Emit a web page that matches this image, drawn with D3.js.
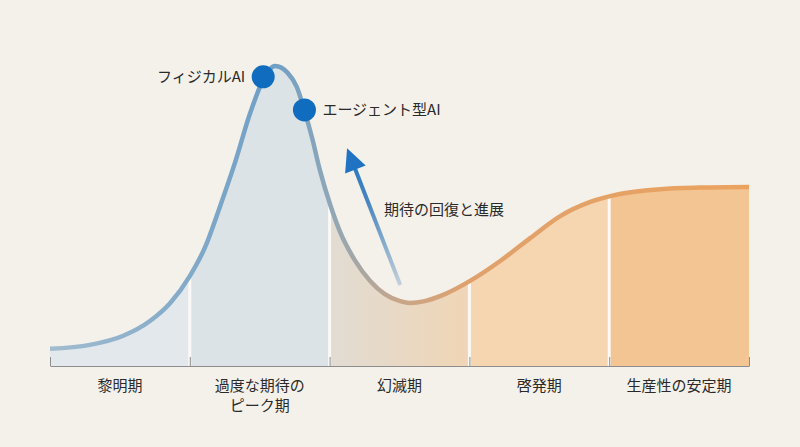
<!DOCTYPE html>
<html>
<head>
<meta charset="utf-8">
<script src="https://cdn.jsdelivr.net/npm/d3@7"></script>
<style>
  html, body { margin: 0; padding: 0; background: #f4f1ea; }
  svg { display: block; font-family: "Noto Sans CJK JP", "Noto Sans", sans-serif; }
</style>
</head>
<body>
<div id="chart"></div>
<script>
// hype cycle, x = time (0-100), y = expectation (0-100)
const curveX = [0, 5.7, 10.4, 14.3, 17.2, 20.0, 22.2, 24.3, 26.5, 28.6, 30.5, 32.2, 34.0, 35.3, 36.3, 37.5, 38.6, 40.1, 41.5, 43.6, 45.8, 47.9, 50.1, 51.5, 53.6, 56.5, 60.1, 64.4, 68.7, 73.0, 77.3, 81.5, 87.3, 93.0, 100];
const curveY = [5.6, 6.9, 9.8, 14.7, 20.6, 29.4, 38.9, 52.0, 66.7, 82.4, 93.5, 98.0, 95.8, 91.2, 84.3, 74.5, 64.1, 52.6, 43.8, 34.6, 27.8, 23.5, 21.2, 20.6, 21.2, 23.5, 27.8, 34.3, 41.8, 49.0, 53.6, 56.2, 57.8, 58.3, 58.5];

const phaseBounds = [0, 20, 40, 60, 80, 100];
const phaseLabels = [['黎明期'], ['過度な期待の', 'ピーク期'], ['幻滅期'], ['啓発期'], ['生産性の安定期']];

const techNames = ['フィジカルAI', 'エージェント型AI'];
const techX = [30.5, 36.4];
const techY = [94.5, 83.7];

const arrowFrom = [50.1, 26.5];
const arrowTo = [42.5, 71.2];
const arrowLabel = '期待の回復と進展';
const arrowLabelPos = [47.8, 51];

const width = 800;
const height = 447;

const svg = d3.select('#chart').append('svg')
    .attr('width', width)
    .attr('height', height);

svg.append('rect')
    .attr('width', width)
    .attr('height', height)
    .attr('fill', '#f4f1ea');

const x = d3.scaleLinear().domain([0, 100]).range([50, 749]);
const y = d3.scaleLinear().domain([0, 100]).range([366, 60]);

const points = curveX.map((d, i) => [d, curveY[i]]);
const defs = svg.append('defs');

// fills per phase
const phaseFills = ['#e3e8ec', '#dce3e6', 'url(#fadeGrad)', '#f5d6b0', '#f3c592'];

const fade = defs.append('linearGradient')
    .attr('id', 'fadeGrad')
    .attr('gradientUnits', 'userSpaceOnUse')
    .attr('x1', x(40)).attr('x2', x(60))
    .attr('y1', 0).attr('y2', 0);
fade.append('stop').attr('offset', 0).attr('stop-color', '#e1dcd3');
fade.append('stop').attr('offset', 1).attr('stop-color', '#f0d5b5');

const area = d3.area()
    .x(d => x(d[0]))
    .y0(y(0))
    .y1(d => y(d[1]))
    .curve(d3.curveMonotoneX);

defs.append('clipPath')
    .attr('id', 'areaClip')
    .append('path')
    .attr('d', area(points));

const fillGroup = svg.append('g').attr('clip-path', 'url(#areaClip)');

phaseLabels.forEach((label, i) => {
    fillGroup.append('rect')
        .attr('x', x(phaseBounds[i]))
        .attr('y', 0)
        .attr('width', x(phaseBounds[i + 1]) - x(phaseBounds[i]))
        .attr('height', y(0))
        .attr('fill', phaseFills[i]);
});

phaseBounds.slice(1, -1).forEach(b => {
    fillGroup.append('line')
        .attr('x1', x(b)).attr('x2', x(b))
        .attr('y1', 0).attr('y2', y(0))
        .attr('stroke', '#fbf9f5')
        .attr('stroke-width', 3);
});

// curve stroke
const strokeGrad = defs.append('linearGradient')
    .attr('id', 'strokeGrad')
    .attr('gradientUnits', 'userSpaceOnUse')
    .attr('x1', x(0)).attr('x2', x(100))
    .attr('y1', 0).attr('y2', 0);
[[0, '#a2bccf'], [0.32, '#6f9fc5'], [0.4, '#8ea7b8'], [0.5, '#c8a689'], [0.6, '#dfa16c'], [1, '#eba35f']]
    .forEach(s => strokeGrad.append('stop').attr('offset', s[0]).attr('stop-color', s[1]));

const line = d3.line()
    .x(d => x(d[0]))
    .y(d => y(d[1]))
    .curve(d3.curveMonotoneX);

svg.append('path')
    .attr('d', line(points))
    .attr('fill', 'none')
    .attr('stroke', 'url(#strokeGrad)')
    .attr('stroke-width', 4.5)
    .attr('stroke-linecap', 'butt');

// axis
const axis = svg.append('g')
    .attr('transform', `translate(0,${y(0)})`)
    .call(d3.axisTop(x).tickValues(phaseBounds).tickSize(9).tickSizeOuter(0).tickFormat(''));
axis.select('.domain').attr('stroke', '#8d8d8d');
axis.selectAll('.tick line').attr('stroke', '#8d8d8d');

// phase labels
phaseLabels.forEach((label, i) => {
    const t = svg.append('text')
        .attr('x', x((phaseBounds[i] + phaseBounds[i + 1]) / 2))
        .attr('y', 391)
        .attr('text-anchor', 'middle')
        .attr('font-size', 15)
        .attr('fill', '#2a2a2a');
    label.forEach((l, j) => {
        t.append('tspan')
            .attr('x', x((phaseBounds[i] + phaseBounds[i + 1]) / 2))
            .attr('dy', j === 0 ? 0 : 20)
            .text(l);
    });
});

// recovery arrow
const arrowGrad = defs.append('linearGradient')
    .attr('id', 'arrowGrad')
    .attr('gradientUnits', 'userSpaceOnUse')
    .attr('x1', x(arrowFrom[0])).attr('y1', y(arrowFrom[1]))
    .attr('x2', x(arrowTo[0])).attr('y2', y(arrowTo[1]));
arrowGrad.append('stop').attr('offset', 0).attr('stop-color', '#c3d0da');
arrowGrad.append('stop').attr('offset', 0.6).attr('stop-color', '#4a86bf');
arrowGrad.append('stop').attr('offset', 1).attr('stop-color', '#1f73c2');

const ax0 = x(arrowFrom[0]), ay0 = y(arrowFrom[1]);
const ax1 = x(arrowTo[0]), ay1 = y(arrowTo[1]);
const len = Math.hypot(ax1 - ax0, ay1 - ay0);
const ux = (ax1 - ax0) / len, uy = (ay1 - ay0) / len;
const headLen = 23, headHalf = 11;
const bx = ax1 - ux * headLen, by = ay1 - uy * headLen;

svg.append('line')
    .attr('x1', ax0).attr('y1', ay0)
    .attr('x2', bx + ux * 2).attr('y2', by + uy * 2)
    .attr('stroke', 'url(#arrowGrad)')
    .attr('stroke-width', 4);

svg.append('path')
    .attr('d', `M${ax1},${ay1}L${bx - uy * headHalf},${by + ux * headHalf}L${bx + uy * headHalf},${by - ux * headHalf}Z`)
    .attr('fill', '#1f73c2');

svg.append('text')
    .attr('x', x(arrowLabelPos[0]))
    .attr('y', y(arrowLabelPos[1]))
    .attr('dy', '0.35em')
    .attr('font-size', 15)
    .attr('fill', '#2a2a2a')
    .text(arrowLabel);

// technology markers
techNames.forEach((name, i) => {
    svg.append('circle')
        .attr('cx', x(techX[i]))
        .attr('cy', y(techY[i]))
        .attr('r', 11.5)
        .attr('fill', '#106cbf');
    svg.append('text')
        .attr('x', x(techX[i]) + (i === 0 ? -18 : 18))
        .attr('y', y(techY[i]))
        .attr('dy', '0.35em')
        .attr('text-anchor', i === 0 ? 'end' : 'start')
        .attr('font-size', 15)
        .attr('fill', '#2a2a2a')
        .text(name);
});
</script>
</body>
</html>
